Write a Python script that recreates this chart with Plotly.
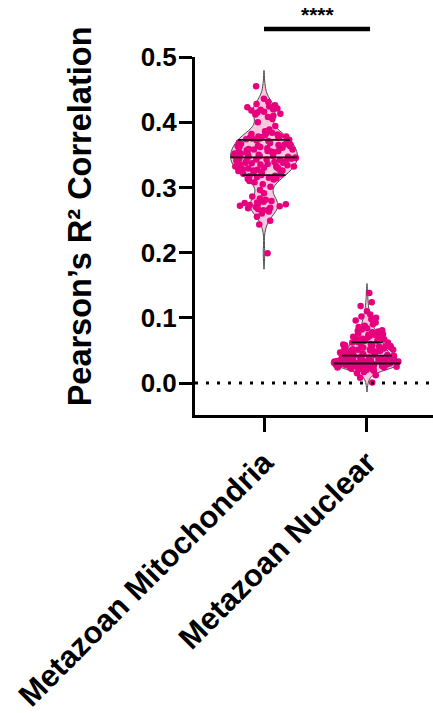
import numpy as np
import plotly.graph_objects as go

# Group labels and per-group Pearson's R^2 values
groups = ["Metazoan Mitochondria", "Metazoan Nuclear"]

mito_r2 = [
    0.455, 0.436, 0.431, 0.428, 0.426, 0.424, 0.423, 0.421, 0.420, 0.419,
    0.418, 0.416, 0.415, 0.413, 0.412, 0.410, 0.408, 0.405, 0.400, 0.394,
    0.389, 0.386, 0.384, 0.383, 0.382, 0.381, 0.380, 0.379, 0.378, 0.378,
    0.377, 0.377, 0.376, 0.376, 0.375, 0.375, 0.374,
    0.373, 0.372, 0.371, 0.370, 0.369, 0.368, 0.367, 0.366, 0.366, 0.365,
    0.364, 0.363, 0.363, 0.362, 0.362, 0.361, 0.360, 0.359, 0.358, 0.358,
    0.357, 0.356, 0.356, 0.355, 0.355, 0.354, 0.353, 0.352, 0.352, 0.351,
    0.350, 0.350, 0.349, 0.348, 0.348, 0.347, 0.347, 0.346, 0.346, 0.345,
    0.344, 0.344, 0.343, 0.343, 0.342, 0.341, 0.341, 0.340, 0.339, 0.338,
    0.338, 0.337, 0.336, 0.335, 0.335, 0.334, 0.334, 0.333, 0.332, 0.332,
    0.331, 0.330, 0.329, 0.329, 0.328, 0.327, 0.326, 0.326, 0.325, 0.324,
    0.323, 0.322, 0.321, 0.320, 0.319,
    0.318, 0.317, 0.316, 0.315, 0.314, 0.313, 0.312, 0.310, 0.308, 0.305,
    0.301, 0.296, 0.291, 0.286, 0.283, 0.281, 0.279, 0.278, 0.277, 0.276,
    0.275, 0.274, 0.273, 0.272, 0.271, 0.270, 0.269, 0.268, 0.267, 0.266,
    0.265, 0.263, 0.260, 0.255, 0.249, 0.243, 0.199,
]

nuclear_r2 = [
    0.001, 0.008, 0.012, 0.015, 0.017, 0.019, 0.020, 0.021, 0.022, 0.022,
    0.023, 0.023, 0.024, 0.024, 0.025, 0.025, 0.025, 0.026, 0.026, 0.026,
    0.026, 0.027, 0.027, 0.027, 0.027, 0.027, 0.028, 0.028, 0.028, 0.028,
    0.028, 0.028, 0.029, 0.029, 0.029, 0.029, 0.029,
    0.030, 0.030, 0.030, 0.030, 0.030, 0.031, 0.031, 0.031, 0.031, 0.031,
    0.032, 0.032, 0.032, 0.032, 0.033, 0.033, 0.033, 0.033, 0.034, 0.034,
    0.034, 0.035, 0.035, 0.035, 0.036, 0.036, 0.036, 0.037, 0.037, 0.038,
    0.038, 0.039, 0.039, 0.040, 0.040, 0.041, 0.041, 0.042, 0.042, 0.043,
    0.043, 0.044, 0.044, 0.045, 0.045, 0.046, 0.046, 0.047, 0.047, 0.048,
    0.048, 0.049, 0.049, 0.050, 0.050, 0.051, 0.051, 0.052, 0.052, 0.053,
    0.053, 0.054, 0.054, 0.055, 0.055, 0.056, 0.056, 0.057, 0.058, 0.058,
    0.059, 0.060, 0.060, 0.061, 0.062, 0.062, 0.063,
    0.064, 0.065, 0.065, 0.066, 0.067, 0.067, 0.068, 0.069, 0.070, 0.070,
    0.071, 0.072, 0.073, 0.074, 0.074, 0.075, 0.076, 0.077, 0.078, 0.079,
    0.080, 0.081, 0.082, 0.084, 0.086, 0.088, 0.090, 0.093, 0.096, 0.098,
    0.100, 0.102, 0.105, 0.110, 0.118, 0.124, 0.138,
]

y_ticks = [0.0, 0.1, 0.2, 0.3, 0.4, 0.5]
significance = "****"

DOT = "#E6007E"
FILL = "#F8C8DE"
EDGE = "#4a4a4a"
FONT = "Liberation Sans, Arial, sans-serif"
VIOLIN_WIDTH = 0.65
X_RANGE = [-0.67, 1.641]
Y_RANGE = [-0.049, 0.5]


def silverman(vals):
    v = np.asarray(vals)
    q1, q3 = np.percentile(v, [25, 75])
    a = min(v.std(ddof=1), (q3 - q1) / 1.349)
    return 1.059 * a * len(v) ** -0.2


def kde(vals, bw, pts):
    v = np.asarray(vals)[None, :]
    p = np.asarray(pts)[:, None]
    return np.exp(-0.5 * ((p - v) / bw) ** 2).sum(axis=1) / (v.size * bw * np.sqrt(2 * np.pi))


fig = go.Figure()

for pos, vals in enumerate([mito_r2, nuclear_r2]):
    bw = 0.78 * silverman(vals)
    fig.add_trace(go.Violin(
        x0=pos, y=vals, width=VIOLIN_WIDTH, bandwidth=bw, spanmode="soft",
        fillcolor=FILL, line=dict(color=EDGE, width=1),
        points="all", pointpos=0, jitter=1.0,
        marker=dict(color=DOT, size=6.5, line=dict(width=0)),
        box_visible=False, meanline_visible=False,
        hoverinfo="skip", showlegend=False,
    ))
    # quartile and median lines, clipped to the violin outline
    grid = np.linspace(min(vals) - 2 * bw, max(vals) + 2 * bw, 2000)
    dmax = kde(vals, bw, grid).max()
    for q in np.percentile(vals, [25, 50, 75]):
        hw = VIOLIN_WIDTH / 2 * kde(vals, bw, [q])[0] / dmax
        fig.add_trace(go.Scatter(
            x=[pos - hw, pos + hw], y=[q, q], mode="lines",
            line=dict(color="#111111", width=1.8),
            hoverinfo="skip", showlegend=False,
        ))

# dotted reference line at zero
fig.add_shape(type="line", xref="paper", yref="y", x0=0, x1=1, y0=0, y1=0,
              line=dict(color="black", width=3, dash="3px,8px"))

# significance bracket between the two groups
def xpaper(v):
    return (v - X_RANGE[0]) / (X_RANGE[1] - X_RANGE[0])

fig.add_shape(type="line", xref="paper", yref="paper",
              x0=xpaper(0), x1=xpaper(1.03), y0=1.078, y1=1.078,
              line=dict(color="black", width=4.5))
fig.add_annotation(text=significance, xref="x", yref="paper", x=0.52, y=1.12,
                   showarrow=False, xanchor="center", yanchor="middle",
                   font=dict(family=FONT, size=21, color="black", weight="bold"))

# y axis title
fig.add_annotation(text="Pearson’s R² Correlation", textangle=-90,
                   xref="paper", yref="paper", x=-0.483, y=0.555,
                   showarrow=False, xanchor="center", yanchor="middle",
                   font=dict(family=FONT, size=32.5, color="black", weight="bold"))

fig.update_layout(
    width=433, height=713,
    margin=dict(l=195, r=0, t=57, b=298),
    plot_bgcolor="white", paper_bgcolor="white",
    violingap=0, violinmode="overlay",
)
fig.update_xaxes(
    range=X_RANGE, tickvals=[0, 1], ticktext=groups, tickangle=-45,
    showline=True, linewidth=3, linecolor="black", mirror=False,
    ticks="outside", ticklen=14, tickwidth=3, tickcolor="black",
    showgrid=False, zeroline=False,
    tickfont=dict(family=FONT, size=31, color="black", weight="bold"),
)
fig.update_yaxes(
    range=Y_RANGE, tickvals=y_ticks, tickformat=".1f",
    showline=True, linewidth=3, linecolor="black",
    ticks="outside", ticklen=13, tickwidth=3, tickcolor="black",
    ticklabelstandoff=-3,
    showgrid=False, zeroline=False,
    tickfont=dict(family=FONT, size=26, color="black", weight="bold"),
)

fig.write_html("out.html")
